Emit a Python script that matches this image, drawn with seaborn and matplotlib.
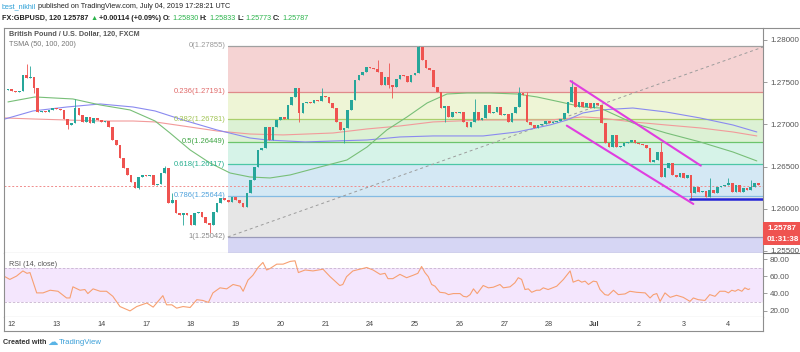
import numpy as np
import pandas as pd
import seaborn as sns
import matplotlib
matplotlib.use("Agg")
import matplotlib.pyplot as plt
from matplotlib.patches import Rectangle
from matplotlib.lines import Line2D

sns.set_theme(style="white")
plt.rcParams["font.family"] = ["Liberation Sans", "DejaVu Sans"]

W, H = 800, 352

# ---- candles: GBPUSD 120 min, bar 0 = start of Jun 12 (12 bars per day) ----
first_bar = -2
first_open = 1.27408
closes = [
    1.27408, 1.27419, 1.27396, 1.27384, 1.27396, 1.27585, 1.27550, 1.27562, 1.27431, 1.27147,
    1.27159, 1.27147, 1.27171, 1.27194, 1.27183, 1.27171, 1.27064, 1.26993, 1.27017, 1.27194,
    1.27112, 1.27029, 1.27088, 1.27017, 1.27076, 1.27052, 1.27029, 1.27040, 1.26969, 1.26815,
    1.26756, 1.26602, 1.26484, 1.26401, 1.26318, 1.26247, 1.26377, 1.26401, 1.26389, 1.26401,
    1.26282, 1.26294, 1.26424, 1.26484, 1.26069, 1.26104, 1.25950, 1.25927, 1.25950, 1.25927,
    1.25808, 1.25950, 1.25962, 1.25903, 1.25832, 1.25808, 1.25962, 1.26069, 1.26128, 1.26104,
    1.26081, 1.26140, 1.26104, 1.26069, 1.26021, 1.26187, 1.26341, 1.26495, 1.26697, 1.26721,
    1.26969, 1.26815, 1.26969, 1.27052, 1.27088, 1.27064, 1.27230, 1.27325, 1.27431, 1.27135,
    1.27254, 1.27266, 1.27254, 1.27289, 1.27277, 1.27337, 1.27325, 1.27254, 1.27194, 1.27029,
    1.26934, 1.26958, 1.27171, 1.27289, 1.27526, 1.27585, 1.27621, 1.27680, 1.27668, 1.27657,
    1.27621, 1.27467, 1.27562, 1.27467, 1.27443, 1.27538, 1.27585, 1.27574, 1.27502, 1.27585,
    1.27609, 1.27917, 1.27763, 1.27668, 1.27645, 1.27443, 1.27384, 1.27194, 1.27218, 1.27088,
    1.27147, 1.27135, 1.27147, 1.27029, 1.26969, 1.27029, 1.27147, 1.27052, 1.27076, 1.27230,
    1.27135, 1.27147, 1.27206, 1.27112, 1.27123, 1.27029, 1.27135, 1.27206, 1.27372, 1.27348,
    1.27029, 1.26993, 1.26958, 1.26993, 1.27005, 1.27040, 1.27017, 1.27029, 1.27040, 1.27064,
    1.27135, 1.27266, 1.27443, 1.27206, 1.27266, 1.27206, 1.27254, 1.27194, 1.27254, 1.27230,
    1.27017, 1.26780, 1.26732, 1.26875, 1.26732, 1.26744, 1.26780, 1.26792, 1.26815, 1.26780,
    1.26768, 1.26756, 1.26721, 1.26555, 1.26578, 1.26673, 1.26377, 1.26484, 1.26543, 1.26401,
    1.26377, 1.26424, 1.26365, 1.26401, 1.26187, 1.26258, 1.26199, 1.26211, 1.26140, 1.26223,
    1.26187, 1.26258, 1.26270, 1.26282, 1.26306, 1.26199, 1.26282, 1.26199, 1.26247, 1.26223,
    1.26258, 1.26306, 1.26282,
]
wick_hi = {4: 1.27716, 5: 1.27692, 17: 1.27301, 41: 1.26507, 43: 1.26187, 83: 1.27431,
           98: 1.27763, 101: 1.27728, 109: 1.27929, 124: 1.27301, 136: 1.27443, 138: 1.27384,
           150: 1.27526, 174: 1.26792, 187: 1.26365, 192: 1.26365, 198: 1.26341}
wick_lo = {6: 1.27372, 15: 1.26946, 34: 1.26235, 46: 1.25808, 53: 1.25713, 77: 1.27029,
           89: 1.26780, 101: 1.27431, 102: 1.27313, 116: 1.27029, 182: 1.26116}

day_bars = [0, 12, 24, 36, 48, 60, 72, 84, 96, 108, 120, 132, 144, 156, 168, 180, 192]
day_labels = ["12", "13", "14", "17", "18", "19", "20", "21", "24", "25", "26", "27", "28",
              "Jul", "2", "3", "4"]

# ---- TSMA 50 / 100 / 200 ----
ma50_x = [-1, 6.2, 16.4, 23.7, 31.7, 38.4, 42.4, 47.8, 53.1, 58.5, 63.8, 69.2, 74.6, 82.6,
          89.8, 95.2, 100.5, 105.9, 111.3, 116.6, 122, 128.1, 135.4, 140.7, 146.9, 153,
          157.6, 166.4, 175.3, 184.4, 193.2, 199.6]
ma50_y = [1.27266, 1.27325, 1.27301, 1.27230, 1.27171, 1.27040, 1.26898, 1.26697, 1.26543,
          1.26424, 1.26377, 1.26365, 1.26401, 1.26495, 1.26578, 1.26732, 1.26934, 1.27088,
          1.27254, 1.27360, 1.27372, 1.27372, 1.27360, 1.27325, 1.27266, 1.27206, 1.27194,
          1.27017, 1.26898, 1.26792, 1.26673, 1.26567]
ma100_x = [-1.8, 5.7, 14.8, 23.7, 32.5, 38.4, 45.9, 55, 63.8, 68.4, 78.6, 86.1, 95.2, 104,
           112.9, 126.3, 135.4, 144.2, 148.8, 153, 157.6, 166.4, 175.3, 184.4, 193.2, 199.6]
ma100_y = [1.27064, 1.27159, 1.27206, 1.27242, 1.27206, 1.27159, 1.27052, 1.26934, 1.26839,
           1.26815, 1.26792, 1.26803, 1.26815, 1.26851, 1.26863, 1.26863, 1.26910, 1.26993,
           1.27052, 1.27135, 1.27171, 1.27194, 1.27147, 1.27076, 1.26993, 1.26910]
ma200_x = [-1.8, 5.7, 14.8, 23.7, 32.5, 38.4, 45.9, 55, 63.8, 72.7, 86.1, 95.2, 104, 112.9,
           126.3, 144.2, 153, 157.6, 166.4, 175.3, 184.4, 193.2, 199.6]
ma200_y = [1.27076, 1.27064, 1.27052, 1.27040, 1.27040, 1.27029, 1.26981, 1.26922, 1.26886,
           1.26875, 1.26898, 1.26946, 1.26981, 1.27029, 1.27052, 1.27052, 1.27088, 1.27076,
           1.27029, 1.26993, 1.26958, 1.26910, 1.26863]

# ---- RSI (14, close) ----
rsi_x = [-2.1, -0.5, 1.3, 3.0, 4.1, 4.9, 6.7, 8.4, 10.3, 12.4,
         14.7, 15.6, 16.4, 18.3, 19.6, 20.4, 21.8, 23.7, 25.4, 27.1,
         29.0, 31.7, 33.5, 36.2, 37.9, 40.5, 41.5, 42.9, 44.2, 45.9,
         47.8, 49.6, 51.2, 52.7, 53.9, 55.8, 57.6, 59.3, 61.2, 62.0,
         63.3, 64.6, 66.0, 67.3, 68.3, 69.2, 71.0, 72.7, 74.6, 75.9,
         76.8, 78.6, 80.7, 83.4, 85.3, 87.1, 87.9, 88.7, 89.7, 91.4,
         93.3, 95.1, 96.8, 98.7, 100.0, 100.8, 102.1, 104.0, 105.8, 107.5,
         108.8, 109.8, 110.7, 111.6, 112.5, 113.4, 114.7, 116.1, 117.0, 118.3,
         120.1, 121.0, 121.9, 122.8, 123.7, 124.7, 126.3, 127.7, 129.0, 130.8,
         131.7, 133.5, 134.8, 135.7, 136.6, 137.5, 138.4, 139.3, 140.6, 141.5,
         142.4, 143.7, 146.0, 147.8, 149.6, 150.4, 151.8, 152.7, 153.6, 154.5,
         155.8, 156.7, 157.6, 158.9, 159.8, 161.2, 162.5, 164.3, 165.6, 167.4,
         169.7, 171.0, 171.9, 172.8, 173.7, 175.0, 176.4, 178.1, 179.9, 181.7,
         182.6, 183.9, 185.7, 187.0, 188.4, 189.7, 191.1, 192.0, 192.9, 193.8,
         194.6, 195.6, 196.4, 197.3, 197.7]
rsi_y = [60.2, 56.3, 60.2, 66.2, 63.4, 64.3, 40.6, 40.6, 43.7, 42.5,
         34.7, 34.7, 47.7, 43.7, 44.5, 39.8, 45.3, 42.5, 42.5, 36.6,
         24.7, 19.6, 24.7, 28.8, 24.0, 37.4, 26.7, 26.7, 22.8, 24.7,
         23.6, 32.7, 31.8, 29.5, 40.6, 46.5, 45.3, 50.4, 48.4, 42.5,
         55.5, 61.1, 70.2, 76.1, 67.3, 69.0, 74.1, 74.1, 77.3, 78.0,
         64.3, 67.3, 66.2, 68.2, 59.5, 52.4, 49.2, 50.4, 59.5, 66.2,
         68.2, 70.2, 67.3, 62.2, 63.4, 57.2, 57.2, 62.2, 58.3, 61.1,
         63.4, 71.4, 64.3, 59.5, 50.4, 48.4, 41.3, 40.6, 38.6, 39.8,
         39.8, 36.6, 35.9, 38.6, 45.3, 39.8, 49.2, 46.5, 47.2, 50.4,
         46.5, 47.7, 52.4, 58.3, 56.3, 44.5, 45.3, 41.3, 43.7, 43.7,
         46.5, 44.5, 48.4, 56.3, 66.2, 53.1, 55.5, 53.1, 54.3, 50.4,
         54.3, 53.6, 44.5, 38.6, 37.8, 43.7, 38.6, 39.4, 42.5, 41.3,
         40.6, 34.7, 38.6, 39.8, 30.7, 40.6, 35.4, 37.8, 35.4, 30.7,
         34.7, 32.7, 31.8, 38.6, 36.6, 42.5, 42.5, 40.6, 43.7, 42.5,
         44.5, 42.5, 46.5, 44.5, 45.3]

# ---- drawings ----
fib_start = 57.9
fib_levels = [1.27929, 1.27387, 1.27060, 1.26795, 1.26527, 1.26155, 1.25666]
fib_labels = ["0(1.27855)", "0.236(1.27191)", "0.382(1.26781)", "0.5(1.26449)",
              "0.618(1.26117)", "0.786(1.25644)", "1(1.25042)"]
fib_zone_colors = ["#f5d3d3", "#eef5d6", "#dcf1d4", "#d6f3e8", "#d4e8f4", "#e6e6e6", "#d6d6f4"]
fib_line_colors = ["#a0a0a0", "#df8a8a", "#aacf6c", "#6cc46c", "#4cc7a6", "#84bbe3", "#9a9ab8"]
fib_text_colors = ["#9a9a9a", "#e06a6a", "#a2c455", "#3fa544", "#25ae8e", "#4fa2dc", "#8a8a8a"]
trend_x = [57.9, 201.3]
trend_y = [1.25666, 1.27917]
chan_up_x, chan_up_y = [149.7, 184.6], [1.27514, 1.26511]
chan_lo_x, chan_lo_y = [148.7, 182.6], [1.26985, 1.26057]
support_x, support_y = [181.7, 201.3], [1.26113, 1.26113]
last_line = 1.26270

# ---- build OHLC ----
df = pd.DataFrame({"bar": np.arange(first_bar, first_bar + len(closes)), "close": closes})
df["open"] = [first_open] + closes[:-1]
df["high"] = [max(o, c, wick_hi.get(b, 0)) for b, o, c in zip(df.bar, df.open, df.close)]
df["low"] = [min(o, c, wick_lo.get(b, 9)) for b, o, c in zip(df.bar, df.open, df.close)]
df["up"] = df.close >= df.open

UP, DOWN = "#26a69a", "#ef5350"
FRAME = "#8e8e8e"
XL = (-2.06, 201.26)

fig = plt.figure(figsize=(W / 100, H / 100), dpi=100)
fig.patch.set_facecolor("white")

def box(l, t, r, b):
    return [l / W, 1 - b / H, (r - l) / W, (b - t) / H]

ax = fig.add_axes(box(4, 28, 763, 253))
ax_rsi = fig.add_axes(box(4, 253, 763, 317), sharex=ax)
ax_t = fig.add_axes(box(4, 317, 763, 331), sharex=ax)

# fib zones
bounds = fib_levels + [1.2540]
for i in range(7):
    ax.fill_between([fib_start, XL[1]], bounds[i + 1], bounds[i], color=fib_zone_colors[i],
                    lw=0, zorder=0)
for lvl, lc, tc, lab in zip(fib_levels, fib_line_colors, fib_text_colors, fib_labels):
    ax.plot([fib_start, XL[1]], [lvl, lvl], color=lc, lw=0.9, zorder=1)
    ax.text(fib_start - 0.7, lvl, lab, ha="right", va="center", color=tc, fontsize=5.5, zorder=5)

ax.axhline(last_line, color="#f08c8c", lw=0.7, ls=(0, (2, 2)), zorder=1)
ax.plot(trend_x, trend_y, color="#9c9c9c", lw=0.7, ls=(0, (3, 3)), zorder=2)

# moving averages
sns.lineplot(x=ma200_x, y=ma200_y, ax=ax, color="#f29a9a", lw=0.8, estimator=None, zorder=2)
sns.lineplot(x=ma100_x, y=ma100_y, ax=ax, color="#8a8af0", lw=0.8, estimator=None, zorder=2)
sns.lineplot(x=ma50_x, y=ma50_y, ax=ax, color="#78bf78", lw=0.8, estimator=None, zorder=2)

# candles
cols = np.where(df.up, UP, DOWN)
ax.vlines(df.bar, df.low, df.high, colors=cols, lw=0.6, zorder=3)
body_lo = np.minimum(df.open, df.close)
body_h = np.maximum(np.abs(df.close - df.open), 0.00003)
ax.bar(df.bar, body_h, bottom=body_lo, width=0.72, color=cols, lw=0, zorder=4)

# channel + support
ax.plot(chan_up_x, chan_up_y, color="#e03ee0", lw=1.5, zorder=6, solid_capstyle="round")
ax.plot(chan_lo_x, chan_lo_y, color="#e03ee0", lw=1.5, zorder=6, solid_capstyle="round")
ax.plot(support_x, support_y, color="#2424d6", lw=1.8, zorder=6)

ax.set_xlim(*XL)
ax.set_ylim(1.25476, 1.28142)
ax.yaxis.tick_right()
ax.set_yticks([1.255, 1.26, 1.265, 1.27, 1.275, 1.28])
ax.set_yticklabels(["1.25500", "1.26000", "1.26500", "1.27000", "1.27500", "1.28000"])
ax.tick_params(axis="y", right=True, length=3, width=0.6, color=FRAME, labelsize=5.8,
               labelcolor="#555555", pad=2)
ax.tick_params(axis="x", bottom=False, labelbottom=False)

# RSI
ax_rsi.axhspan(30, 70, color="#f4e6fd", lw=0, zorder=0)
for lv in (30, 70):
    ax_rsi.axhline(lv, color="#c7b3cf", lw=0.6, ls=(0, (3, 2)), zorder=1)
sns.lineplot(x=rsi_x, y=rsi_y, ax=ax_rsi, color="#f7a072", lw=0.8, estimator=None, zorder=2)
ax_rsi.set_ylim(12.5, 87.1)
ax_rsi.yaxis.tick_right()
ax_rsi.set_yticks([20, 40, 60, 80])
ax_rsi.set_yticklabels(["20.00", "40.00", "60.00", "80.00"])
ax_rsi.tick_params(axis="y", right=True, length=3, width=0.6, color=FRAME, labelsize=5.8,
                   labelcolor="#555555", pad=2)
ax_rsi.tick_params(axis="x", bottom=False, labelbottom=False)

# time strip
ax_t.set_ylim(0, 1)
ax_t.set_yticks([])
ax_t.tick_params(axis="x", bottom=False, labelbottom=False)
for b, lab in zip(day_bars, day_labels):
    ax_t.text(b, 0.5, lab, ha="center", va="center", fontsize=5.2, color="#444444",
              fontweight="bold" if lab == "Jul" else "normal")

for a in (ax, ax_rsi, ax_t):
    a.set_xlabel("")
    a.set_ylabel("")
    for s in a.spines.values():
        s.set_color(FRAME)
        s.set_linewidth(0.8)
ax.spines["bottom"].set_color("#6f6f6f")
ax_rsi.spines["top"].set_visible(False)
ax_t.spines["top"].set_visible(False)

# frame pieces outside the axes
fig.add_artist(Line2D([763 / W, 1], [1 - 28 / H] * 2, color=FRAME, lw=0.8))
fig.add_artist(Line2D([763 / W, 1], [1 - 253 / H] * 2, color="#6f6f6f", lw=0.8))

# last price tag
fig.add_artist(Rectangle((763 / W, 1 - 234 / H), 37 / W, 12 / H, color="#ef5350", lw=0))
fig.add_artist(Rectangle((763 / W, 1 - 245 / H), 37 / W, 11 / H, color="#ef5350", lw=0))
fig.text(767 / W, 1 - 228 / H, "1.25787", color="white", fontsize=5.8, fontweight="bold",
         va="center")
fig.text(767 / W, 1 - 239.5 / H, "01:31:38", color="white", fontsize=5.8, fontweight="bold",
         va="center")

# panel titles
fig.text(9 / W, 1 - 34 / H, "British Pound / U.S. Dollar, 120, FXCM", fontsize=5.2,
         fontweight="bold", color="#555555", va="center")
fig.text(9 / W, 1 - 44 / H, "TSMA (50, 100, 200)", fontsize=5.2, color="#777777", va="center")
fig.text(9 / W, 1 - 264 / H, "RSI (14, close)", fontsize=5.2, color="#555555", va="center")

# header / footer text runs
rend = fig.canvas.get_renderer()

def line_of_text(x, y, parts, gap=1.5):
    for s, col, wt, size, fam in parts:
        t = fig.text(x / W, 1 - y / H, s, color=col, fontsize=size, fontweight=wt, va="center",
                     family=fam)
        x += t.get_window_extent(renderer=rend).width + gap

GREEN = "#2bb34b"
DARK = "#222222"
LS = ["Liberation Sans", "DejaVu Sans"]
HS = 5.2
line_of_text(2, 7, [("best_nikhil", "#2a9fd6", "normal", HS, LS),
                    ("published on TradingView.com, July 04, 2019 17:28:21 UTC", DARK, "normal", HS, LS)])
line_of_text(2, 18, [("FX:GBPUSD, 120", DARK, "bold", HS, LS), ("1.25787", DARK, "bold", HS, LS),
                     ("\u25b2", GREEN, "normal", HS, LS), ("+0.00114 (+0.09%)", DARK, "bold", HS, LS),
                     ("O:", DARK, "bold", HS, LS), ("1.25830", GREEN, "normal", HS, LS),
                     ("H:", DARK, "bold", HS, LS), ("1.25833", GREEN, "normal", HS, LS),
                     ("L:", DARK, "bold", HS, LS), ("1.25773", GREEN, "normal", HS, LS),
                     ("C:", DARK, "bold", HS, LS), ("1.25787", GREEN, "normal", HS, LS)])
line_of_text(3, 342, [("Created with", "#333333", "bold", 5.2, LS),
                      ("\u2601", "#5ab4e6", "normal", 7.5, ["DejaVu Sans"]),
                      ("TradingView", "#3a9fd8", "normal", 5.6, LS)], gap=1.0)

fig.savefig("out.png", dpi=100, facecolor="white")
